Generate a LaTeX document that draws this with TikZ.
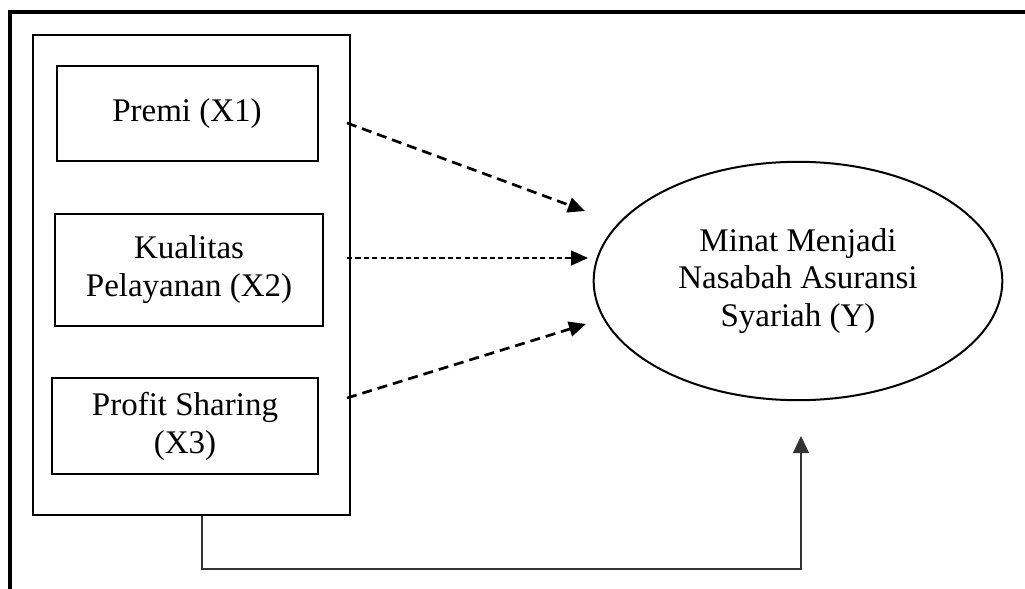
\documentclass[tikz,border=0pt]{standalone}
\usepackage{fontspec}
\setmainfont{Liberation Serif}
\usetikzlibrary{arrows.meta,shapes.geometric}
\begin{document}
\begin{tikzpicture}[x=0.5pt,y=-0.5pt,
  txt/.style={font=\fontsize{16.5pt}{18.9pt}\selectfont, align=center},
  varbox/.style={draw, line width=1pt, rectangle, inner sep=0pt, txt},
  grp/.style={draw, line width=1pt, rectangle, inner sep=0pt},
  thickdash/.style={line width=1.35pt, dash pattern=on 5pt off 3pt, -{Triangle[length=8.5pt,width=7.5pt]}},
  thindash/.style={line width=0.55pt, dash pattern=on 2.6pt off 1.6pt, -{Triangle[length=8.5pt,width=7.5pt]}},
  solidarr/.style={line width=0.6pt, draw=black!80, -{Triangle[length=8.5pt,width=8pt]}},
  frame/.style={line width=1.75pt}
]
\useasboundingbox (0,0) rectangle (1025,589);
% outer frame (top and left)
\coordinate (fbl) at (10,589);
\coordinate (ftl) at (10,12);
\coordinate (ftr) at (1025,12);
\draw[frame] (fbl) -- (ftl) -- (ftr);
% group rectangle
\node[grp, minimum width=158.5pt, minimum height=240pt] (grp) at (191.5,275) {};
% variable boxes
\node[varbox, minimum width=130.5pt, minimum height=47.7pt] (x1) at (187,113.3) {Premi (X1)};
\node[varbox, minimum width=133.8pt, minimum height=56pt] (x2) at (189,270) {Kualitas\\Pelayanan (X2)};
\node[varbox, minimum width=133.2pt, minimum height=48pt] (x3) at (185,426) {Profit Sharing\\(X3)};
% dependent variable
\node[draw, ellipse, line width=1pt, minimum width=204.3pt, minimum height=119.2pt, inner sep=0pt, txt] (y) at (798,281) {Minat Menjadi\\Nasabah Asuransi\\Syariah (Y)};
% connector points
\coordinate (s1) at (347,123);
\coordinate (e1) at (585,211);
\coordinate (s2) at (347,258);
\coordinate (e2) at (588,258);
\coordinate (s3) at (347,398);
\coordinate (e3) at (586,324);
\coordinate (s4) at (202,515);
\coordinate (c4) at (202,569);
\coordinate (k4) at (801,569);
\coordinate (e4) at (801,436);
\draw[thickdash] (s1) -- (e1);
\draw[thindash] (s2) -- (e2);
\draw[thickdash] (s3) -- (e3);
\draw[solidarr] (grp.south -| s4) -- (c4) -- (k4) -- (e4);
\end{tikzpicture}
\end{document}
